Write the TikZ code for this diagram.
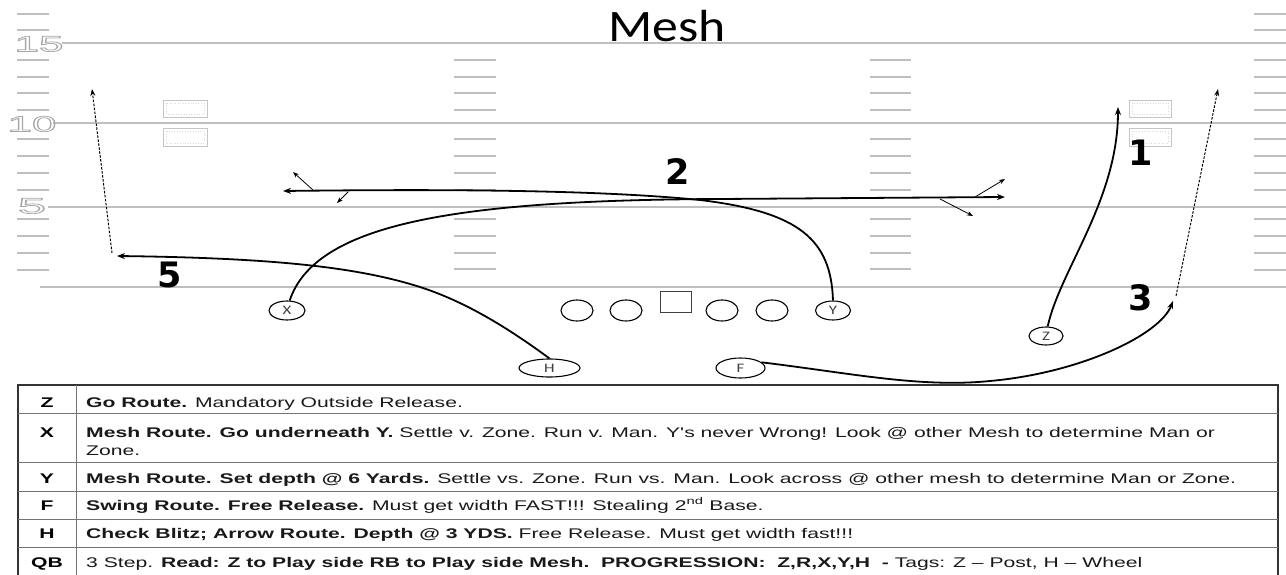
\documentclass[tikz,border=0pt]{standalone}
\usepackage{fontspec}
\setmainfont{Liberation Sans}
\newfontfamily\tablefont{Liberation Sans}[FakeStretch=1.51]
\newfontfamily\titlefont{Carlito}[FakeStretch=1.15]
\newfontfamily\numfont{DejaVu Sans}
\newfontfamily\yardfont{Liberation Sans}
\newfontfamily\plfont{Carlito}[FakeStretch=1.3]
\usetikzlibrary{arrows.meta,shapes.geometric}
\newcommand\outlinetxt[1]{\special{pdf:literal direct 1 Tr 0.7 w}#1\special{pdf:literal direct 0 Tr}}
\begin{document}
\begin{tikzpicture}[x=1pt,y=-1pt,
  yardline/.style={gray!50, line width=1.6pt},
  hashmark/.style={gray!50, line width=2pt},
  goalbox/.style={draw=gray!45, line width=0.9pt},
  goalinner/.style={draw=gray!30, line width=0.6pt, dotted},
  yardnum/.style={inner sep=0, text=gray!70, font=\yardfont\fontsize{22}{22}\selectfont},
  lineman/.style={draw, ellipse, line width=1.1pt, inner sep=0, minimum width=32pt, minimum height=21pt},
  center/.style={draw=black!75, line width=0.9pt, inner sep=0, minimum width=31pt, minimum height=21pt},
  player/.style={draw, ellipse, line width=1.1pt, inner sep=0, text=black!75, font=\plfont\fontsize{13}{13}\selectfont},
  route/.style={line width=1.8pt, -{Stealth[length=8pt,width=6pt]}},
  optarrow/.style={line width=0.8pt, -{Stealth[length=6pt,width=4.5pt]}},
  wheel/.style={line width=1pt, dash pattern=on 2.5pt off 1.5pt, -{Stealth[length=7pt,width=5pt]}},
  bignum/.style={inner sep=0, text=black, font=\numfont\bfseries\fontsize{35}{35}\selectfont},
  tableborder/.style={draw=black!80, line width=1.6pt},
  tablerule/.style={draw=black!55, line width=1pt},
  collabel/.style={anchor=base, inner sep=0, font=\tablefont\bfseries\fontsize{14}{18}\selectfont},
  tabletext/.style={anchor=base west, inner sep=0, text=black!90, font=\tablefont\fontsize{14}{18}\selectfont}
]
\useasboundingbox (0,0) rectangle (1286,575);
\clip (0,0) rectangle (1286,575);

% yard lines
\draw[yardline] (62,43) -- (1286,43);
\draw[yardline] (53,123) -- (1286,123);
\draw[yardline] (48,207) -- (1286,207);
\draw[yardline] (40,287) -- (1286,287);

% hash marks
\foreach \y in {14,30,60,77,93,110,139,156,173,190,219,236,253,270}
  \draw[hashmark] (17,\y) -- (49,\y);
\foreach \y in {14,30,60,77,93,110,139,156,173,190,219,236,253,270}
  \draw[hashmark] (1254,\y) -- (1286,\y);
\foreach \y in {60,77,93,110,139,156,173,190,219,236,253,269}
  {\draw[hashmark] (454,\y) -- (496,\y);
   \draw[hashmark] (870,\y) -- (911,\y);}

% yard numbers
\node[yardnum] (y15) at (39,44) {\scalebox{2.0}[1]{\outlinetxt{15}}};
\node[yardnum] (y10) at (32,124) {\scalebox{2.0}[1]{\outlinetxt{10}}};
\node[yardnum] (y5) at (32,206) {\scalebox{2.3}[1]{\outlinetxt{5}}};

% boxes
\draw[goalbox] (163,100) rectangle (207,117);
\draw[goalinner] (166,103) rectangle (204,114);
\draw[goalbox] (163,128) rectangle (207,146);
\draw[goalinner] (166,131) rectangle (204,143);
\draw[goalbox] (1129,100) rectangle (1171,117);
\draw[goalinner] (1132,103) rectangle (1168,114);
\draw[goalbox] (1129,128) rectangle (1171,146);
\draw[goalinner] (1132,131) rectangle (1168,143);

% title
\node[anchor=base, inner sep=0, font=\titlefont\fontsize{45}{45}\selectfont] (title) at (667,42) {Mesh};

% linemen
\node[lineman] (c1) at (577,310.5) {};
\node[lineman] (c2) at (626,310.5) {};
\node[center] (qbc) at (675.5,301.5) {};
\node[lineman] (c3) at (722,310.5) {};
\node[lineman] (c4) at (772,310.5) {};

% players
\node[player, minimum width=36pt, minimum height=19pt] (X) at (287,310.5) {X};
\node[player, minimum width=35pt, minimum height=19pt] (Y) at (833,310.5) {Y};
\node[player, minimum width=34pt, minimum height=18pt] (Z) at (1046,336) {Z};
\node[player, minimum width=61pt, minimum height=18pt] (H) at (549.5,368) {H};
\node[player, minimum width=49pt, minimum height=20pt] (F) at (740.5,368) {F};

% route end points
\coordinate (xend) at (1005,197);
\coordinate (xo1s) at (975,197);
\coordinate (xo1e) at (1005,179);
\coordinate (xo2s) at (940,199);
\coordinate (xo2e) at (973,216);
\coordinate (yend) at (283,191);
\coordinate (yo1s) at (313,190);
\coordinate (yo1e) at (293,172);
\coordinate (yo2s) at (348,192);
\coordinate (yo2e) at (337,203);
\coordinate (zend) at (1118,107);
\coordinate (fend) at (1173,301);
\coordinate (fws) at (1176,296);
\coordinate (fwe) at (1218,89);
\coordinate (hend) at (117,256);
\coordinate (hws) at (112,253);
\coordinate (hwe) at (92,89);

% routes
\draw[route] (X.75) .. controls (315,225) and (450,200) .. (720,199) -- (xend);
\draw[optarrow] (xo1s) -- (xo1e);
\draw[optarrow] (xo2s) -- (xo2e);
\draw[route] (Y.north) .. controls (831,240) and (800,212) .. (700,200) .. controls (600,190) and (450,189) .. (yend);
\draw[optarrow] (yo1s) -- (yo1e);
\draw[optarrow] (yo2s) -- (yo2e);
\draw[route] (Z.80) .. controls (1060,270) and (1118,200) .. (zend);
\draw[route] (F.15) .. controls (850,373) and (920,388) .. (990,381) .. controls (1080,373) and (1160,335) .. (fend);
\draw[wheel] (fws) -- (fwe);
\draw[route] (H.north) .. controls (500,322) and (460,300) .. (420,287) .. controls (360,268) and (280,258) .. (hend);
\draw[wheel] (hws) -- (hwe);

% big numbers
\node[bignum] (n1) at (1141,153) {1};
\node[bignum] (n2) at (678,172) {2};
\node[bignum] (n3) at (1141,298) {3};
\node[bignum] (n5) at (170,275) {5};

% table
\draw[tableborder] (18,620) -- (18,385) -- (1278,385) -- (1278,620);
\draw[tablerule] (76,385) -- (76,620);
\foreach \y in {413,462,491,519,547}
  \draw[tablerule] (18,\y) -- (1278,\y);

\node[collabel] (lz) at (47,407) {Z};
\node[collabel] (lx) at (47,437) {X};
\node[collabel] (ly) at (47,483) {Y};
\node[collabel] (lf) at (47,510) {F};
\node[collabel] (lh) at (47,538) {H};
\node[collabel] (lqb) at (47,567) {QB};

\node[tabletext] (tz) at (86,407) {\textbf{Go Route.} Mandatory Outside Release.};
\node[tabletext] (tx) at (86,437) {\textbf{Mesh Route. Go underneath Y.} Settle v. Zone. Run v. Man. Y's never Wrong! Look @ other Mesh to determine Man or};
\node[tabletext] (tx2) at (86,455) {Zone.};
\node[tabletext] (ty) at (86,483) {\textbf{Mesh Route. Set depth @ 6 Yards.} Settle vs. Zone. Run vs. Man. Look across @ other mesh to determine Man or Zone.};
\node[tabletext] (tf) at (86,510) {\textbf{Swing Route. Free Release.} Must get width FAST!!! Stealing 2\textsuperscript{nd} Base.};
\node[tabletext] (th) at (86,538) {\textbf{Check Blitz; Arrow Route. Depth @ 3 YDS.} Free Release. Must get width fast!!!};
\node[tabletext] (tqb) at (86,567) {3 Step. \textbf{Read: Z to Play side RB to Play side Mesh.\ \ PROGRESSION:\ \ Z,R,X,Y,H\ \ -} Tags: Z – Post, H – Wheel};
\end{tikzpicture}
\end{document}
